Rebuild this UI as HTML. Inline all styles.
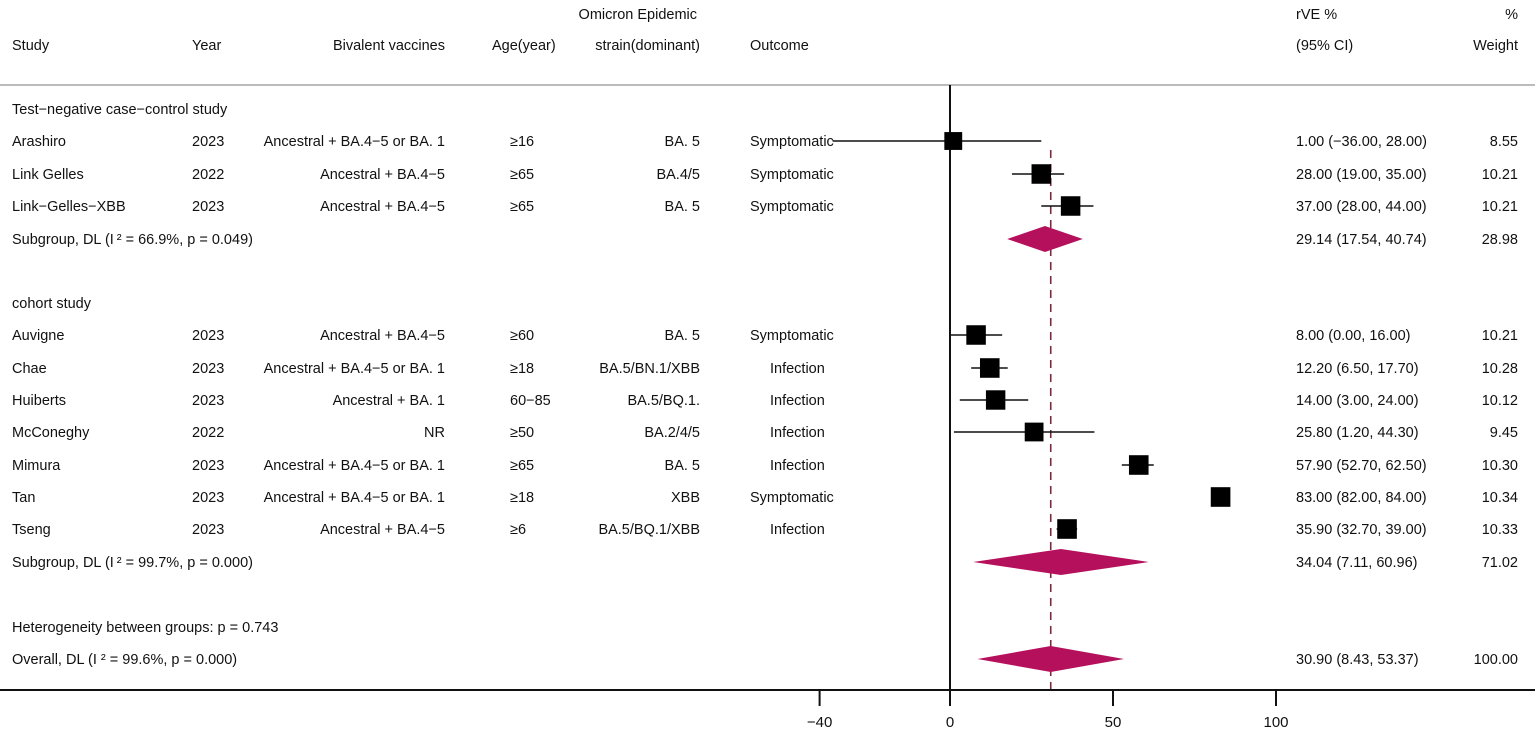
<!DOCTYPE html>
<html><head><meta charset="utf-8">
<style>
html,body{margin:0;padding:0;background:#fff;}
svg{display:block;font-family:"Liberation Sans",sans-serif;}
</style></head>
<body>
<svg id="chart" width="1535" height="733" viewBox="0 0 1535 733" xmlns="http://www.w3.org/2000/svg">
<g id="text" font-size="14.5" fill="#111"></g>
<g id="marks"></g>
</svg>
<script>
const studies = ["Arashiro","Link Gelles","Link\u2212Gelles\u2212XBB","Auvigne","Chae","Huiberts","McConeghy","Mimura","Tan","Tseng"];
const years = ["2023","2022","2023","2023","2023","2023","2022","2023","2023","2023"];
const vaccines = ["Ancestral + BA.4\u22125 or BA.  1","Ancestral + BA.4\u22125","Ancestral + BA.4\u22125","Ancestral + BA.4\u22125","Ancestral + BA.4\u22125 or BA.  1","Ancestral + BA. 1","NR","Ancestral + BA.4\u22125 or BA.  1","Ancestral + BA.4\u22125 or BA.  1","Ancestral + BA.4\u22125"];
const ages = ["\u226516","\u226565","\u226565","\u226560","\u226518","60\u221285","\u226550","\u226565","\u226518","\u22656"];
const strains = ["BA. 5","BA.4/5","BA. 5","BA. 5","BA.5/BN.1/XBB","BA.5/BQ.1.","BA.2/4/5","BA. 5","XBB","BA.5/BQ.1/XBB"];
const outcomes = ["Symptomatic","Symptomatic","Symptomatic","Symptomatic","Infection","Infection","Infection","Infection","Symptomatic","Infection"];
const est = [1.00,28.00,37.00,8.00,12.20,14.00,25.80,57.90,83.00,35.90];
const lo = [-36.00,19.00,28.00,0.00,6.50,3.00,1.20,52.70,82.00,32.70];
const hi = [28.00,35.00,44.00,16.00,17.70,24.00,44.30,62.50,84.00,39.00];
const weights = [8.55,10.21,10.21,10.21,10.28,10.12,9.45,10.30,10.34,10.33];
const rowY = [141,174,206,335,368,400,432,465,497,529];
const pooledLabels = ["Subgroup, DL (I\u2009\u00B2 = 66.9%, p = 0.049)","Subgroup, DL (I\u2009\u00B2 = 99.7%, p = 0.000)","Overall, DL (I \u00B2 = 99.6%, p = 0.000)"];
const pooledEst = [29.14,34.04,30.90];
const pooledLo = [17.54,7.11,8.43];
const pooledHi = [40.74,60.96,53.37];
const pooledW = ["28.98","71.02","100.00"];
const pooledY = [239,562,659];
const ticks = [-40,0,50,100];

const NS="http://www.w3.org/2000/svg";
const x = v => 950 + v*3.26;
const T = document.getElementById('text'), M = document.getElementById('marks');
function el(tag, attrs, parent){const e=document.createElementNS(NS,tag);for(const k in attrs)e.setAttribute(k,attrs[k]);parent.appendChild(e);return e;}
function txt(s,xx,yy,anchor,name){const e=el('text',{x:xx,y:yy+5,'text-anchor':anchor||'start'},T);e.textContent=s;


return e;}
const f2=v=>v.toFixed(2).replace('-','\u2212');

txt("Omicron Epidemic",697,14,'end','header-omicron');
txt("rVE %",1296,14,'start','header-rve');
txt("%",1518,14,'end','header-percent');
txt("Study",12,45,'start','header-study');
txt("Year",192,45,'start','header-year');
txt("Bivalent vaccines",445,45,'end','header-vaccines');
txt("Age(year)",492,45,'start','header-age');
txt("strain(dominant)",700,45,'end','header-strain');
txt("Outcome",750,45,'start','header-outcome');
txt("(95% CI)",1296,45,'start','header-ci');
txt("Weight",1518,45,'end','header-weight');
txt("Test\u2212negative case\u2212control study",12,109,'start','group-label-test-negative');
txt("cohort study",12,303,'start','group-label-cohort');
txt("Heterogeneity between groups: p = 0.743",12,627,'start','heterogeneity-label');

let l=el('line',{x1:0,y1:85,x2:1535,y2:85,stroke:'#bbb','stroke-width':2},M);


l=el('line',{x1:x(0),y1:85,x2:x(0),y2:690,stroke:'#111','stroke-width':2},M);


l=el('line',{x1:x(pooledEst[2]),y1:150,x2:x(pooledEst[2]),y2:690,stroke:'#7a2a3a','stroke-width':1.6,'stroke-dasharray':'8,6'},M);


l=el('line',{x1:0,y1:690,x2:1535,y2:690,stroke:'#111','stroke-width':2},M);


ticks.forEach(t=>{
  const tk=el('line',{x1:x(t),y1:690,x2:x(t),y2:706,stroke:'#111','stroke-width':2},M);
  
  
  const lb=txt(String(t).replace('-','\u2212'),x(t),722,'middle','x-tick-label');
  lb.setAttribute('font-size','15');
});

studies.forEach((s,i)=>{
  const y=rowY[i];
  txt(s,12,y,'start','study-name');
  txt(years[i],192,y,'start','study-year');
  txt(vaccines[i],445,y,'end','study-vaccine');
  txt(ages[i],510,y,'start','study-age');
  txt(strains[i],700,y,'end','study-strain');
  txt(outcomes[i],i>=4&&outcomes[i]=="Infection"?770:750,y,'start','study-outcome');
  txt(f2(est[i])+" ("+f2(lo[i])+", "+f2(hi[i])+")",1296,y,'start','study-ci-text');
  txt(weights[i].toFixed(2),1518,y,'end','study-weight');
  const ci=el('line',{x1:x(lo[i]),y1:y,x2:x(hi[i]),y2:y,stroke:'#111','stroke-width':1.6},M);
  
  
  const sz=19.5*Math.sqrt(weights[i]/10.2);
  const sq=el('rect',{x:x(est[i])-sz/2,y:y-sz/2,width:sz,height:sz,fill:'#000'},M);
  
  
});
pooledY.forEach((y,i)=>{
  txt(pooledLabels[i],12,y,'start','pooled-label');
  txt(f2(pooledEst[i])+" ("+f2(pooledLo[i])+", "+f2(pooledHi[i])+")",1296,y,'start','pooled-ci-text');
  txt(pooledW[i],1518,y,'end','pooled-weight');
  const d=el('polygon',{points:`${x(pooledLo[i])},${y} ${x(pooledEst[i])},${y-13} ${x(pooledHi[i])},${y} ${x(pooledEst[i])},${y+13}`,fill:'#b5105c'},M);
  
  
});
</script>
</body></html>
